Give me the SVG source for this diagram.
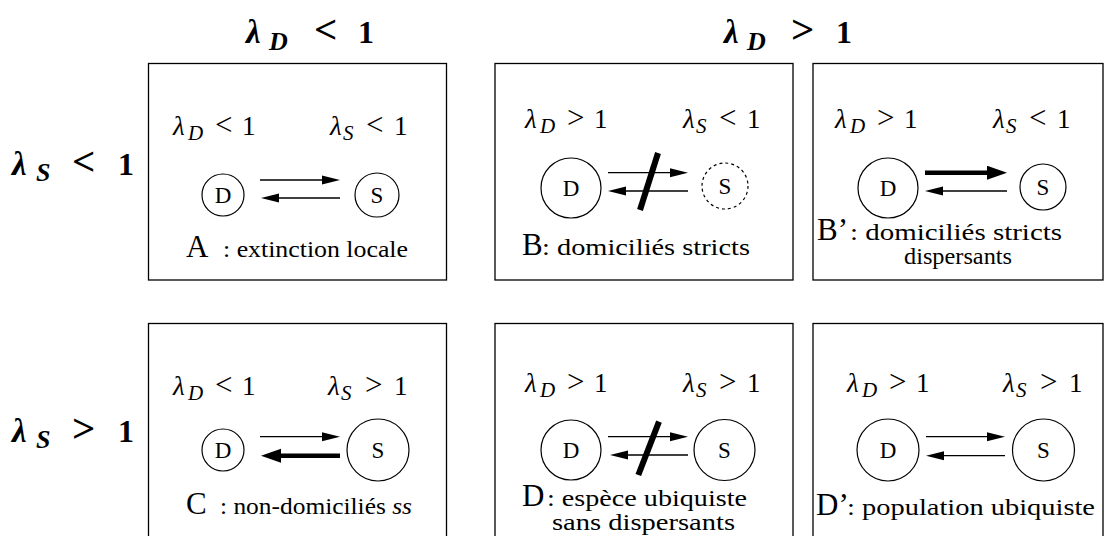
<svg xmlns="http://www.w3.org/2000/svg" width="1104" height="536" viewBox="0 0 1104 536" font-family="'Liberation Serif', 'Times New Roman', Tinos, 'DejaVu Serif', serif">
<style>
text{font-family:"Liberation Serif","Times New Roman",Tinos,"DejaVu Serif",serif;fill:#000}
.box{fill:none;stroke:#000;stroke-width:1.3}
.nd{fill:#fff;stroke:#000;stroke-width:1.2}
.dash{stroke-dasharray:3 3}
.ln{fill:none;stroke:#000;stroke-width:1.3;marker-end:url(#ah)}
.thk{fill:none;stroke:#000;stroke-width:4.5;marker-end:url(#ahb)}
.slash{stroke:#000;stroke-width:6}
.m{font-size:27px}
.it{font-style:italic}
.sub{font-size:21px;font-style:italic}
.rel{font-size:31px}
.h{font-size:32px;font-weight:bold}
.hl{font-size:33px;font-style:italic}
.hs{font-size:26px;font-weight:bold;font-style:italic}
.hrel{font-size:41px;font-weight:bold}
.nl{font-size:23px;text-anchor:middle}
.cap{font-size:24px}
.big{font-size:31px}
</style>
<defs>
<marker id="ah" markerUnits="userSpaceOnUse" markerWidth="20" markerHeight="12" refX="8" refY="5" orient="auto"><path d="M0,0.5 L18,5 L0,9.5 z" fill="#000"/></marker>
<marker id="ahb" markerUnits="userSpaceOnUse" markerWidth="22" markerHeight="16" refX="8" refY="7" orient="auto"><path d="M0,0 L20,7 L0,14 z" fill="#000"/></marker>
</defs>
<rect width="1104" height="536" fill="#fff"/>

<g id="headings">
<text class="h" y="43"><tspan x="246" class="hl">λ</tspan><tspan x="269" dy="7" class="hs">D</tspan><tspan x="314" dy="-7" class="hrel">&lt;</tspan><tspan x="358">1</tspan></text>
<text class="h" y="43"><tspan x="724" class="hl">λ</tspan><tspan x="747" dy="7" class="hs">D</tspan><tspan x="791" dy="-7" class="hrel">&gt;</tspan><tspan x="836">1</tspan></text>
<text class="h" y="175"><tspan x="12" class="hl">λ</tspan><tspan x="36" dy="6" class="hs">S</tspan><tspan x="72" dy="-6" class="hrel">&lt;</tspan><tspan x="118">1</tspan></text>
<text class="h" y="442"><tspan x="12" class="hl">λ</tspan><tspan x="36" dy="6" class="hs">S</tspan><tspan x="72" dy="-6" class="hrel">&gt;</tspan><tspan x="118">1</tspan></text>
</g>

<g id="boxA">
<rect class="box" x="148.5" y="63.5" width="298" height="216.5"/>
<text class="m" y="135"><tspan x="173" class="it">λ</tspan><tspan x="188" dy="5" class="sub">D</tspan><tspan x="215" dy="-5" class="rel">&lt;</tspan><tspan x="242">1</tspan></text>
<text class="m" y="135"><tspan x="330" class="it">λ</tspan><tspan x="343" dy="5" class="sub">S</tspan><tspan x="366" dy="-5" class="rel">&lt;</tspan><tspan x="394">1</tspan></text>
<circle class="nd" cx="223" cy="195" r="21"/><text class="nl" x="223" y="203">D</text>
<circle class="nd" cx="377" cy="195" r="22"/><text class="nl" x="377" y="203">S</text>
<text class="big" x="186" y="257">A</text>
<text class="cap" x="223" y="257" textLength="185" lengthAdjust="spacingAndGlyphs">: extinction locale</text>
</g>

<g id="boxB">
<rect class="box" x="495" y="63.5" width="298" height="216.5"/>
<text class="m" y="128"><tspan x="525" class="it">λ</tspan><tspan x="540" dy="5" class="sub">D</tspan><tspan x="567" dy="-5" class="rel">&gt;</tspan><tspan x="594">1</tspan></text>
<text class="m" y="128"><tspan x="683" class="it">λ</tspan><tspan x="696" dy="5" class="sub">S</tspan><tspan x="719" dy="-5" class="rel">&lt;</tspan><tspan x="747">1</tspan></text>
<circle class="nd" cx="571" cy="188" r="30"/><text class="nl" x="571" y="196">D</text>
<circle class="nd dash" cx="725" cy="186" r="23"/><text class="nl" x="725" y="194">S</text>
<text class="big" x="522" y="255">B</text>
<text class="cap" x="542" y="255" textLength="208" lengthAdjust="spacingAndGlyphs">: domiciliés stricts</text>
</g>

<g id="boxB2">
<rect class="box" x="813" y="63.5" width="290" height="216.5"/>
<text class="m" y="128"><tspan x="835" class="it">λ</tspan><tspan x="850" dy="5" class="sub">D</tspan><tspan x="877" dy="-5" class="rel">&gt;</tspan><tspan x="904">1</tspan></text>
<text class="m" y="128"><tspan x="993" class="it">λ</tspan><tspan x="1006" dy="5" class="sub">S</tspan><tspan x="1029" dy="-5" class="rel">&lt;</tspan><tspan x="1057">1</tspan></text>
<circle class="nd" cx="888" cy="188" r="30"/><text class="nl" x="888" y="196">D</text>
<circle class="nd" cx="1043" cy="187" r="23"/><text class="nl" x="1043" y="195">S</text>
<text class="big" x="817" y="240">B’</text>
<text class="cap" x="850" y="240" textLength="212" lengthAdjust="spacingAndGlyphs">: domiciliés stricts</text>
<text class="cap" x="904" y="264" textLength="108" lengthAdjust="spacingAndGlyphs">dispersants</text>
</g>

<g id="boxC">
<rect class="box" x="148.5" y="323.5" width="298" height="220"/>
<text class="m" y="395"><tspan x="173" class="it">λ</tspan><tspan x="188" dy="5" class="sub">D</tspan><tspan x="215" dy="-5" class="rel">&lt;</tspan><tspan x="242">1</tspan></text>
<text class="m" y="395"><tspan x="328" class="it">λ</tspan><tspan x="341" dy="5" class="sub">S</tspan><tspan x="365" dy="-5" class="rel">&gt;</tspan><tspan x="394">1</tspan></text>
<circle class="nd" cx="223" cy="450" r="21"/><text class="nl" x="223" y="458">D</text>
<circle class="nd" cx="378" cy="450" r="31"/><text class="nl" x="378" y="458">S</text>
<text class="big" x="186" y="514">C</text>
<text class="cap" x="220" y="514" textLength="192" lengthAdjust="spacingAndGlyphs">: non-domiciliés <tspan class="it">ss</tspan></text>
</g>

<g id="boxD">
<rect class="box" x="495" y="323.5" width="298" height="220"/>
<text class="m" y="392"><tspan x="525" class="it">λ</tspan><tspan x="540" dy="5" class="sub">D</tspan><tspan x="567" dy="-5" class="rel">&gt;</tspan><tspan x="594">1</tspan></text>
<text class="m" y="392"><tspan x="683" class="it">λ</tspan><tspan x="696" dy="5" class="sub">S</tspan><tspan x="719" dy="-5" class="rel">&gt;</tspan><tspan x="747">1</tspan></text>
<circle class="nd" cx="571" cy="450" r="30"/><text class="nl" x="571" y="458">D</text>
<circle class="nd" cx="724.5" cy="450" r="30.5"/><text class="nl" x="724.5" y="458">S</text>
<text class="big" x="522" y="506">D</text>
<text class="cap" x="547" y="506" textLength="200" lengthAdjust="spacingAndGlyphs">: espèce ubiquiste</text>
<text class="cap" x="552" y="530" textLength="183" lengthAdjust="spacingAndGlyphs">sans dispersants</text>
</g>

<g id="boxD2">
<rect class="box" x="813" y="323.5" width="290" height="220"/>
<text class="m" y="392"><tspan x="847" class="it">λ</tspan><tspan x="862" dy="5" class="sub">D</tspan><tspan x="889" dy="-5" class="rel">&gt;</tspan><tspan x="916">1</tspan></text>
<text class="m" y="392"><tspan x="1003" class="it">λ</tspan><tspan x="1016" dy="5" class="sub">S</tspan><tspan x="1040" dy="-5" class="rel">&gt;</tspan><tspan x="1069">1</tspan></text>
<circle class="nd" cx="888" cy="450" r="31"/><text class="nl" x="888" y="458">D</text>
<circle class="nd" cx="1043.5" cy="450" r="31"/><text class="nl" x="1043.5" y="458">S</text>
<text class="big" x="816" y="515">D’</text>
<text class="cap" x="847" y="515" textLength="248" lengthAdjust="spacingAndGlyphs">: population ubiquiste</text>
</g>

<g id="connectors">
<path class="ln" d="M260,180 H330"/>
<path class="ln" d="M340,198 H271"/>
<path class="ln" d="M608,172.7 H678"/>
<path class="ln" d="M688,191 H618"/>
<line class="slash" x1="658" y1="153" x2="640" y2="210"/>
<path class="thk" d="M925,172.7 H995"/>
<path class="ln" d="M1007,191 H935"/>
<path class="ln" d="M260,436.7 H330"/>
<path class="thk" d="M340,455.7 H273"/>
<path class="ln" d="M608,436.7 H678"/>
<path class="ln" d="M688,455 H620"/>
<line class="slash" x1="659" y1="421.7" x2="638.3" y2="475"/>
<path class="ln" d="M926,436.7 H995"/>
<path class="ln" d="M1005,455.7 H936"/>
</g>
</svg>
